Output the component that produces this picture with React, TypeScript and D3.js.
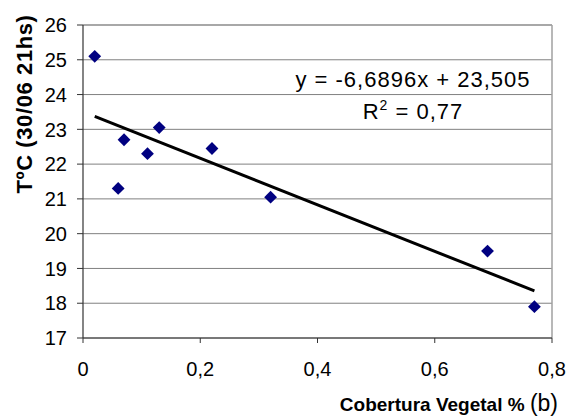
import React from 'react';
import * as d3 from 'd3';

// cobertura vegetal (fraction) and temperature readings
const cobertura = [0.02, 0.06, 0.07, 0.11, 0.13, 0.22, 0.32, 0.69, 0.77];
const temperatura = [25.1, 21.3, 22.7, 22.3, 23.05, 22.45, 21.05, 19.5, 17.9];
const yTicks = [17, 18, 19, 20, 21, 22, 23, 24, 25, 26];
const xTicks = [0, 0.2, 0.4, 0.6, 0.8];
const slope = -6.6896;
const intercept = 23.505;

const width = 569;
const height = 417;
const margin = { top: 25, right: 17, bottom: 79, left: 83 };

const fmt = (v: number) => String(v).replace('.', ',');

export default function App() {
  const x = d3.scaleLinear().domain([0, 0.8]).range([margin.left, width - margin.right]);
  const y = d3.scaleLinear().domain([17, 26]).range([height - margin.bottom, margin.top]);

  const x0 = d3.min(cobertura) as number;
  const x1 = d3.max(cobertura) as number;
  const trend = d3.line<number>()
    .x((d) => x(d))
    .y((d) => y(slope * d + intercept))([x0, x1]);

  const diamond = d3.symbol().type(d3.symbolDiamond2).size(105)();
  const font = '"Liberation Sans", Arial, sans-serif';

  return (
    <svg
      width={width}
      height={height}
      style={{ position: 'absolute', left: 0, top: 0, background: '#fff' }}
      fontFamily={font}
    >
      {/* grid */}
      {yTicks.map((t) => (
        <line key={t} x1={x(0)} x2={x(0.8)} y1={y(t)} y2={y(t)} stroke="#808080" strokeWidth={1} />
      ))}
      <line x1={x(0.8)} x2={x(0.8)} y1={y(26)} y2={y(17)} stroke="#a0a0a0" strokeWidth={1.5} />
      <line x1={x(0)} x2={x(0.8)} y1={y(26)} y2={y(26)} stroke="#a0a0a0" strokeWidth={1.5} />

      {/* axes */}
      <line x1={x(0)} x2={x(0)} y1={y(26)} y2={y(17)} stroke="#333" strokeWidth={1.2} />
      <line x1={x(0)} x2={x(0.8)} y1={y(17)} y2={y(17)} stroke="#333" strokeWidth={1.2} />
      {yTicks.map((t) => (
        <g key={t}>
          <line x1={x(0) - 6} x2={x(0)} y1={y(t)} y2={y(t)} stroke="#333" />
          <text x={x(0) - 16} y={y(t)} dy="0.36em" textAnchor="end" fontSize={20} fill="#000">
            {t}
          </text>
        </g>
      ))}
      {xTicks.map((t) => (
        <g key={t}>
          <line x1={x(t)} x2={x(t)} y1={y(17)} y2={y(17) + 5} stroke="#333" />
          <text x={x(t)} y={y(17) + 38} textAnchor="middle" fontSize={20} fill="#000">
            {fmt(t)}
          </text>
        </g>
      ))}

      {/* trend line */}
      <path d={trend ?? ''} stroke="#000" strokeWidth={3} fill="none" />

      {/* points */}
      {cobertura.map((c, i) => (
        <path key={i} d={diamond ?? ''} transform={`translate(${x(c)},${y(temperatura[i])})`} fill="#000080" />
      ))}

      {/* equation */}
      <text x={413} y={87} textAnchor="middle" fontSize={22} letterSpacing={1} fill="#000">
        y = -6,6896x + 23,505
      </text>
      <text x={413} y={119} textAnchor="middle" fontSize={22} letterSpacing={1} fill="#000">
        R<tspan dy={-9} fontSize={14}>2</tspan><tspan dy={9}> = 0,77</tspan>
      </text>

      {/* titles */}
      <text
        transform={`translate(32, 104) rotate(-90)`}
        textAnchor="middle"
        fontSize={22}
        fontWeight="bold"
        letterSpacing={0.6}
        fill="#000"
      >
        TºC (30/06 21hs)
      </text>
      <text x={558} y={411} textAnchor="end" fontSize={19} fill="#000">
        <tspan fontWeight="bold">Cobertura Vegetal % </tspan>
        <tspan fontSize={23}>(b)</tspan>
      </text>
    </svg>
  );
}
